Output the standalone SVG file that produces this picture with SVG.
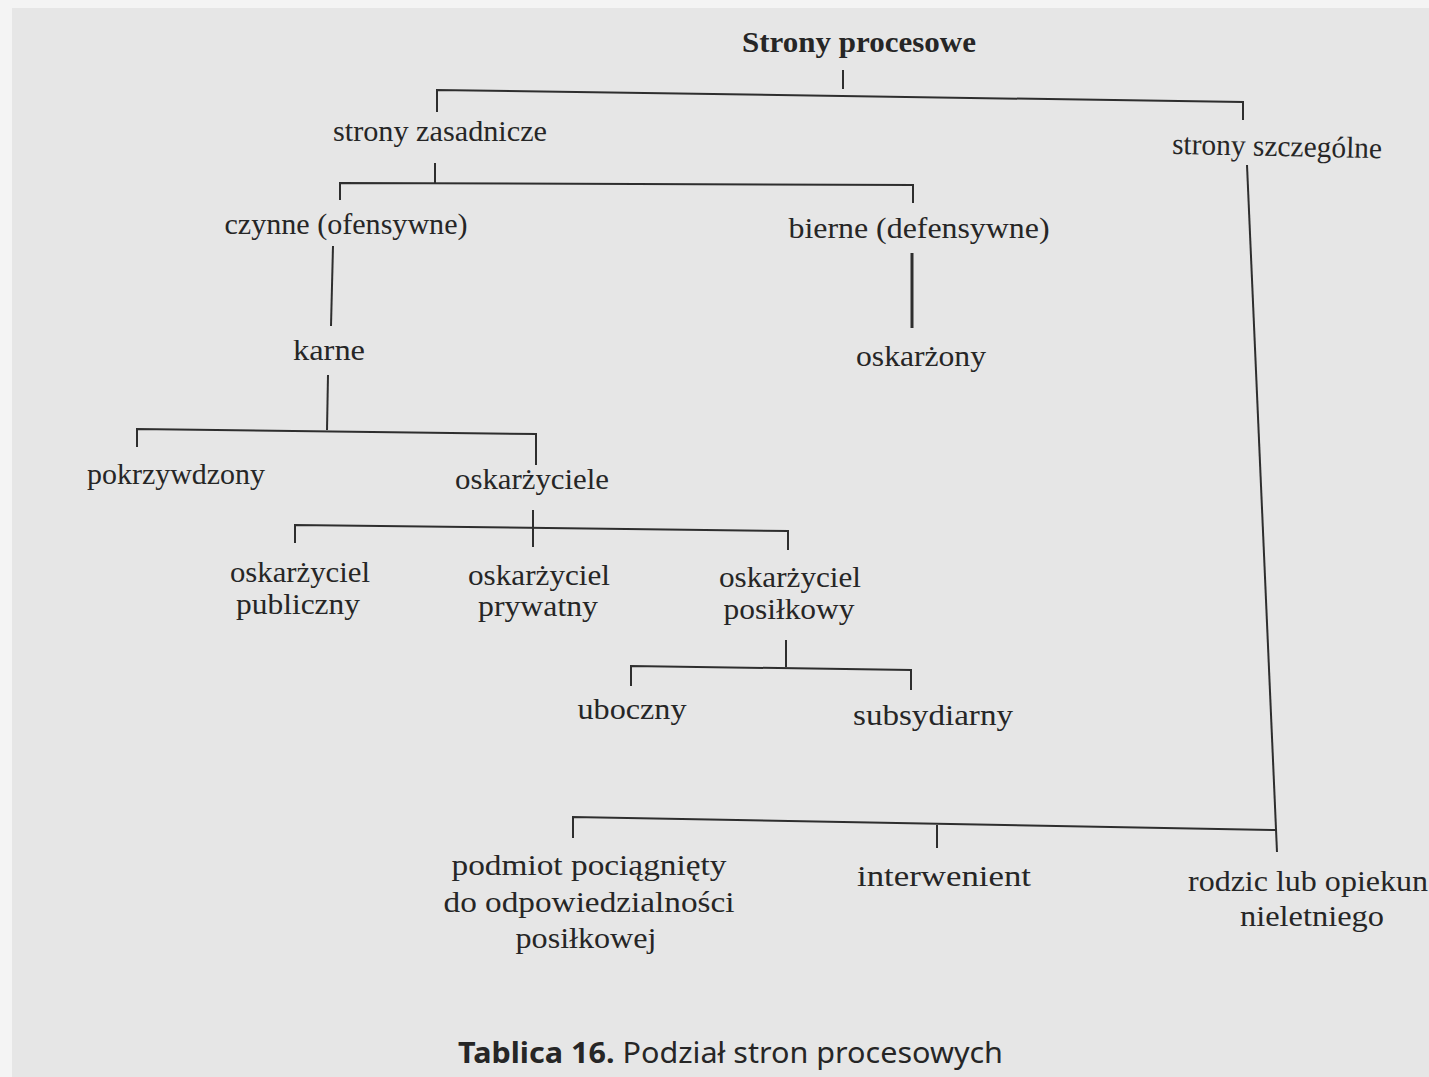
<svg xmlns="http://www.w3.org/2000/svg" width="1429" height="1077" viewBox="0 0 1429 1077">
<style>
text{font-family:"Liberation Serif","DejaVu Serif",serif;font-size:30px;fill:#262626;text-anchor:middle}
.b{font-weight:bold}
.cap{font-family:"Noto Sans","Liberation Sans",sans-serif;font-size:29px;text-anchor:start}
.c line,.c polyline{stroke:#2e2e2e;stroke-width:2;fill:none}
</style>
<rect x="0" y="0" width="1429" height="1077" fill="#f4f4f4"/>
<rect x="12" y="8" width="1417" height="1069" fill="#e6e6e6"/>
<g class="c" id="connectors">
<line x1="843" y1="70" x2="843" y2="89"/>
<polyline points="437,112 437,90 1243,102 1243,120"/>
<line x1="435" y1="163" x2="435" y2="183"/>
<polyline points="340,200 340,183 913,185 913,203"/>
<line x1="333" y1="246" x2="331" y2="326"/>
<line x1="912" y1="253" x2="912" y2="328" style="stroke-width:3"/>
<line x1="328" y1="375" x2="327" y2="430"/>
<polyline points="137,447 137,429 536,434 536,465"/>
<line x1="533" y1="510" x2="533" y2="547"/>
<polyline points="295,543 295,525 788,531 788,550"/>
<line x1="786" y1="640" x2="786" y2="667"/>
<polyline points="631,686 631,666 911,670 911,690"/>
<line x1="1247" y1="165" x2="1277" y2="852"/>
<polyline points="573,838 573,817 1276,830"/>
<line x1="937" y1="825" x2="937" y2="848"/>
</g>
<g id="n_root"><text class="b" x="859" y="52" textLength="234" lengthAdjust="spacingAndGlyphs">Strony procesowe</text></g>
<g id="n_zasadnicze"><text x="440" y="141" textLength="214" lengthAdjust="spacingAndGlyphs">strony zasadnicze</text></g>
<g id="n_szczegolne"><text x="1277" y="156" textLength="210" lengthAdjust="spacingAndGlyphs" transform="rotate(1.2 1277 150)">strony szczególne</text></g>
<g id="n_czynne"><text x="346" y="234" textLength="243" lengthAdjust="spacingAndGlyphs">czynne (ofensywne)</text></g>
<g id="n_bierne"><text x="919" y="238" textLength="261" lengthAdjust="spacingAndGlyphs">bierne (defensywne)</text></g>
<g id="n_karne"><text x="329" y="360" textLength="72" lengthAdjust="spacingAndGlyphs">karne</text></g>
<g id="n_oskarzony"><text x="921" y="366" textLength="130" lengthAdjust="spacingAndGlyphs">oskarżony</text></g>
<g id="n_pokrzywdzony"><text x="176" y="484" textLength="178" lengthAdjust="spacingAndGlyphs">pokrzywdzony</text></g>
<g id="n_oskarzyciele"><text x="532" y="489" textLength="154" lengthAdjust="spacingAndGlyphs">oskarżyciele</text></g>
<g id="n_publiczny"><text x="300" y="582" textLength="140" lengthAdjust="spacingAndGlyphs">oskarżyciel</text><text x="298" y="614" textLength="124" lengthAdjust="spacingAndGlyphs">publiczny</text></g>
<g id="n_prywatny"><text x="539" y="585" textLength="142" lengthAdjust="spacingAndGlyphs">oskarżyciel</text><text x="538" y="616" textLength="120" lengthAdjust="spacingAndGlyphs">prywatny</text></g>
<g id="n_posilkowy"><text x="790" y="587" textLength="142" lengthAdjust="spacingAndGlyphs">oskarżyciel</text><text x="789" y="619" textLength="131" lengthAdjust="spacingAndGlyphs">posiłkowy</text></g>
<g id="n_uboczny"><text x="632" y="719" textLength="109" lengthAdjust="spacingAndGlyphs">uboczny</text></g>
<g id="n_subsydiarny"><text x="933" y="725" textLength="160" lengthAdjust="spacingAndGlyphs">subsydiarny</text></g>
<g id="n_podmiot"><text x="589" y="875" textLength="275" lengthAdjust="spacingAndGlyphs">podmiot pociągnięty</text><text x="589" y="912" textLength="291" lengthAdjust="spacingAndGlyphs">do odpowiedzialności</text><text x="586" y="948" textLength="141" lengthAdjust="spacingAndGlyphs">posiłkowej</text></g>
<g id="n_interwenient"><text x="944" y="886" textLength="174" lengthAdjust="spacingAndGlyphs">interwenient</text></g>
<g id="n_rodzic"><text x="1308" y="891" textLength="240" lengthAdjust="spacingAndGlyphs">rodzic lub opiekun</text><text x="1312" y="926" textLength="144" lengthAdjust="spacingAndGlyphs">nieletniego</text></g>
<g id="caption"><text class="cap" x="458" y="1063" textLength="545" lengthAdjust="spacingAndGlyphs"><tspan font-weight="bold">Tablica 16.</tspan> Podział stron procesowych</text></g>
</svg>
